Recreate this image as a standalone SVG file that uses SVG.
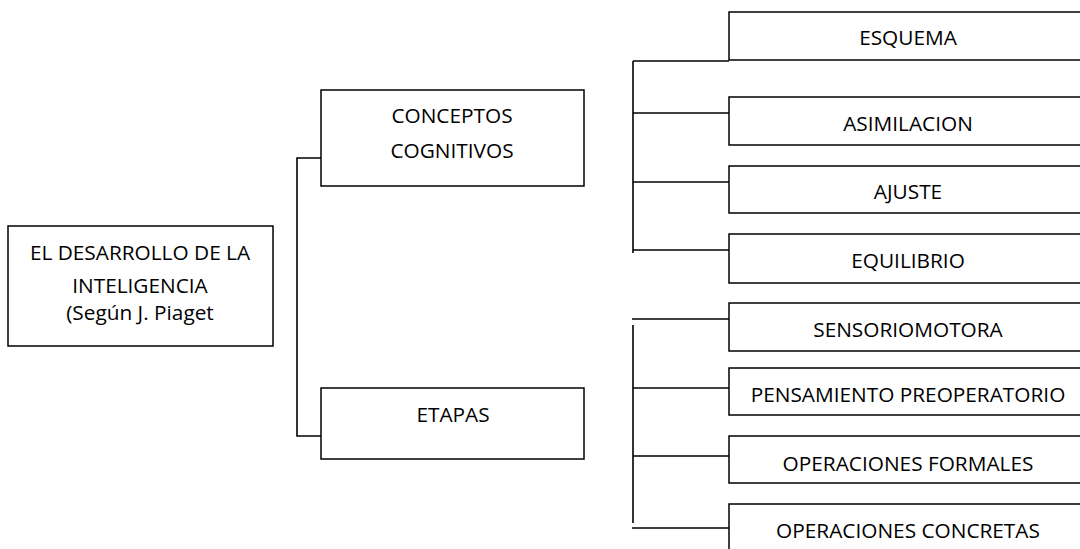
<svg xmlns="http://www.w3.org/2000/svg" width="1080" height="549" viewBox="0 0 1080 549">
<style>
.box{fill:#fff;stroke:#000;stroke-width:1.5}
.lbl{font-family:"Open Sans","Liberation Sans",sans-serif;font-size:20.8px;fill:#000;text-anchor:middle}
.con{fill:none;stroke:#000;stroke-width:1.6}
</style>
<rect width="1080" height="549" fill="#fff"/>
<g id="connectors">
<polyline class="con" points="321,158 297,158 297,436 321,436"/>
<line class="con" x1="633" y1="61" x2="633" y2="253"/>
<line class="con" x1="633" y1="61" x2="729" y2="61"/>
<line class="con" x1="633" y1="113" x2="729" y2="113"/>
<line class="con" x1="633" y1="182" x2="729" y2="182"/>
<line class="con" x1="633" y1="250" x2="729" y2="250"/>
<line class="con" x1="633" y1="325" x2="633" y2="523"/>
<line class="con" x1="632" y1="319" x2="729" y2="319"/>
<line class="con" x1="633" y1="388" x2="729" y2="388"/>
<line class="con" x1="633" y1="456" x2="729" y2="456"/>
<line class="con" x1="632" y1="528" x2="729" y2="528"/>
</g>
<g id="root">
<rect class="box" x="8" y="226" width="265" height="120"/>
<text class="lbl" x="140" y="260">EL DESARROLLO DE LA</text>
<text class="lbl" x="140" y="293">INTELIGENCIA</text>
<text class="lbl" x="140" y="320">(Según J. Piaget</text>
</g>
<g id="conceptos">
<rect class="box" x="321" y="90" width="263" height="96"/>
<text class="lbl" x="452" y="123">CONCEPTOS</text>
<text class="lbl" x="452" y="158">COGNITIVOS</text>
</g>
<g id="etapas">
<rect class="box" x="321" y="388" width="263" height="71"/>
<text class="lbl" x="453" y="422">ETAPAS</text>
</g>
<g id="esquema">
<rect class="box" x="729" y="12" width="362" height="48"/>
<text class="lbl" x="908" y="45">ESQUEMA</text>
</g>
<g id="asimilacion">
<rect class="box" x="729" y="97" width="362" height="48"/>
<text class="lbl" x="908" y="131">ASIMILACION</text>
</g>
<g id="ajuste">
<rect class="box" x="729" y="166" width="362" height="47"/>
<text class="lbl" x="908" y="199">AJUSTE</text>
</g>
<g id="equilibrio">
<rect class="box" x="729" y="234" width="362" height="49"/>
<text class="lbl" x="908" y="268">EQUILIBRIO</text>
</g>
<g id="sensoriomotora">
<rect class="box" x="729" y="303" width="362" height="48"/>
<text class="lbl" x="908" y="337">SENSORIOMOTORA</text>
</g>
<g id="preoperatorio">
<rect class="box" x="729" y="368" width="362" height="47"/>
<text class="lbl" x="908" y="402">PENSAMIENTO PREOPERATORIO</text>
</g>
<g id="formales">
<rect class="box" x="729" y="436" width="362" height="47"/>
<text class="lbl" x="908" y="471">OPERACIONES FORMALES</text>
</g>
<g id="concretas">
<rect class="box" x="729" y="504" width="362" height="60"/>
<text class="lbl" x="908" y="538">OPERACIONES CONCRETAS</text>
</g>
</svg>
